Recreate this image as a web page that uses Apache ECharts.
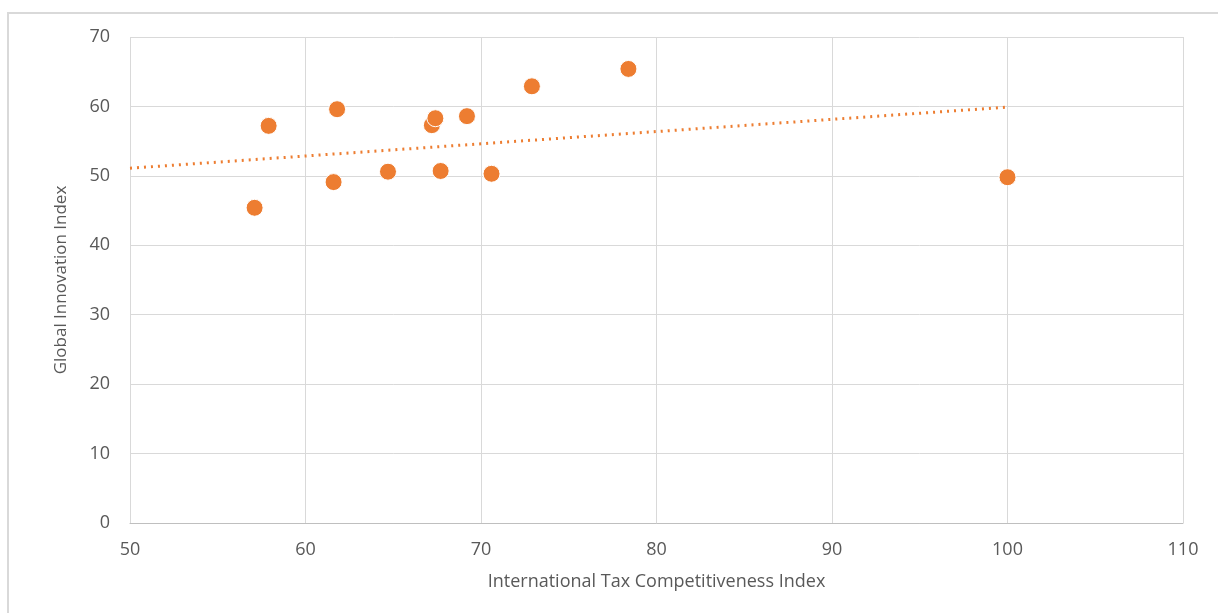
<!DOCTYPE html>
<html><head><meta charset="utf-8">
<script src="https://cdn.jsdelivr.net/npm/echarts@6/dist/echarts.min.js"></script>
<style>
html,body{margin:0;padding:0;background:#fff;}
#frame{position:absolute;left:7px;top:12px;width:1230px;height:640px;border:2px solid #d9d9d9;box-sizing:border-box;}
#c{position:absolute;left:0;top:0;width:1218px;height:613px;}
</style></head>
<body><div id="frame"></div><div id="c"></div>
<script>
const taxIndex = [57.1, 57.9, 61.6, 61.8, 64.7, 67.2, 67.4, 67.7, 69.2, 70.6, 72.9, 78.4, 100.0];
const innovationIndex = [45.4, 57.2, 49.1, 59.6, 50.6, 57.3, 58.3, 50.7, 58.6, 50.3, 62.9, 65.4, 49.8];
const trendX = [50, 100];
const trendY = [51.1, 59.9];
const xTicks = [50, 60, 70, 80, 90, 100, 110];
const yTicks = [0, 10, 20, 30, 40, 50, 60, 70];

const chart = echarts.init(document.getElementById('c'));
const font = "'Open Sans', 'Noto Sans', sans-serif";
chart.setOption({
  animation:false,
  grid:{left:130,right:35,top:37,bottom:90,containLabel:false},
  xAxis:{type:'value',min:xTicks[0],max:xTicks[xTicks.length-1],interval:10,
    name:'International Tax Competitiveness Index',nameLocation:'middle',nameGap:50,
    nameTextStyle:{color:'#595959',fontSize:18,fontFamily:font},
    axisLine:{show:true,lineStyle:{color:'#bfbfbf',width:1}},axisTick:{show:false},
    axisLabel:{color:'#595959',fontSize:18,margin:18,fontFamily:font},
    splitLine:{show:true,lineStyle:{color:'#d9d9d9',width:1}}},
  yAxis:{type:'value',min:yTicks[0],max:yTicks[yTicks.length-1],interval:10,
    name:'Global Innovation Index',nameLocation:'middle',nameGap:60,
    nameTextStyle:{color:'#595959',fontSize:17,fontFamily:font},
    axisLine:{show:false},axisTick:{show:false},
    axisLabel:{color:'#595959',fontSize:18,margin:20,fontFamily:font},
    splitLine:{show:true,lineStyle:{color:'#d9d9d9',width:1}}},
  series:[
    {type:'line',data:trendX.map((x,i)=>[x,trendY[i]]),symbol:'none',
     lineStyle:{color:'#ed7d31',width:3,type:[2,5]},silent:true,z:1},
    {type:'scatter',data:taxIndex.map((x,i)=>[x,innovationIndex[i]]),symbolSize:17,
     itemStyle:{color:'#ed7d31',opacity:1,borderColor:'#ffffff',borderWidth:1},z:2}
  ]
});
</script></body></html>
